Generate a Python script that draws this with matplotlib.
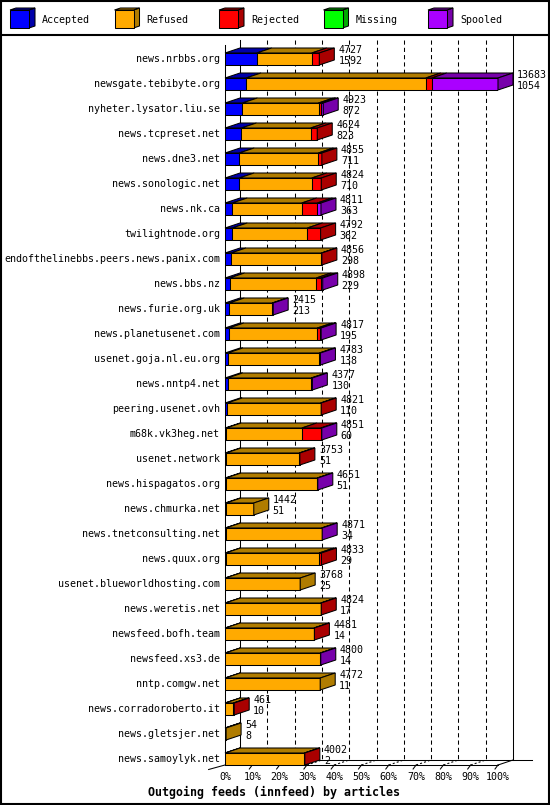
import matplotlib
matplotlib.use("Agg")
import matplotlib.pyplot as plt
from matplotlib.patches import Polygon, Rectangle
from matplotlib.lines import Line2D

# ------------------ data ------------------
hosts = [
    "news.nrbbs.org", "newsgate.tebibyte.org", "nyheter.lysator.liu.se",
    "news.tcpreset.net", "news.dne3.net", "news.sonologic.net", "news.nk.ca",
    "twilightnode.org", "endofthelinebbs.peers.news.panix.com", "news.bbs.nz",
    "news.furie.org.uk", "news.planetusenet.com", "usenet.goja.nl.eu.org",
    "news.nntp4.net", "peering.usenet.ovh", "m68k.vk3heg.net", "usenet.network",
    "news.hispagatos.org", "news.chmurka.net", "news.tnetconsulting.net",
    "news.quux.org", "usenet.blueworldhosting.com", "news.weretis.net",
    "newsfeed.bofh.team", "newsfeed.xs3.de", "nntp.comgw.net",
    "news.corradoroberto.it", "news.gletsjer.net", "news.samoylyk.net",
]
total = [4727, 13683, 4923, 4624, 4855, 4824, 4811, 4792, 4856, 4898,
         2415, 4817, 4783, 4377, 4821, 4851, 3753, 4651, 1442, 4871,
         4833, 3768, 4824, 4481, 4800, 4772, 461, 54, 4002]
accepted = [1592, 1054, 872, 823, 711, 710, 363, 362, 298, 229,
            213, 195, 138, 130, 110, 60, 51, 51, 51, 34,
            29, 25, 17, 14, 14, 11, 10, 8, 2]
refused = [2755, 9009, 3816, 3471, 3964, 3639, 3483, 3765, 4538, 4344,
           2152, 4437, 4595, 4187, 4681, 3791, 3672, 4570, 1391, 4807,
           4689, 3743, 4782, 4442, 4761, 4761, 411, 46, 3980]
rejected = [380, 300, 100, 330, 180, 475, 780, 665, 20, 225,
            0, 135, 0, 0, 30, 950, 30, 0, 0, 0,
            115, 0, 25, 25, 0, 0, 40, 0, 20]
missing = [0, 0, 0, 0, 0, 0, 0, 0, 0, 0,
           0, 0, 0, 0, 0, 0, 0, 0, 0, 0,
           0, 0, 0, 0, 0, 0, 0, 0, 0]
spooled = [0, 3320, 135, 0, 0, 0, 185, 0, 0, 100,
           50, 50, 50, 60, 0, 50, 0, 30, 0, 30,
           0, 0, 0, 0, 25, 0, 0, 0, 0]

series = ["Accepted", "Refused", "Rejected", "Missing", "Spooled"]
faces = ["#0000ff", "#ffaa00", "#ff0000", "#00ff00", "#aa00ff"]
darks = ["#0000aa", "#b07c00", "#aa0000", "#00aa00", "#7700aa"]
ticks = [0, 10, 20, 30, 40, 50, 60, 70, 80, 90, 100]

# ------------------ layout ------------------
W, H = 550, 805
MONO = "DejaVu Sans Mono"
FS = 7.2
LW = 0.75
HALF = 0.24      # half bar height (rows)
DX = 15 / 2.73   # depth in percent units (15 px)
DY = 0.2         # depth in rows (5 px)

fig = plt.figure(figsize=(W / 100, H / 100), dpi=100)
fig.patch.set_facecolor("white")


def px(x, y):
    return x / W, 1 - y / H


# outer frame and legend separator
fig.add_artist(Rectangle(px(1, 804), 548 / W, 803 / H, transform=fig.transFigure,
                         fill=False, ec="black", lw=1.5))
fig.add_artist(Line2D([0, 1], [px(0, 35)[1]] * 2, transform=fig.transFigure,
                      color="black", lw=1.5))

# legend with little cubes
for k, name in enumerate(series):
    x0 = 10 + k * 104.5
    fx, fy = px(x0, 28)
    fig.add_artist(Polygon([px(x0 + 19, 10), px(x0 + 25, 8), px(x0 + 25, 26), px(x0 + 19, 28)],
                           transform=fig.transFigure, fc=darks[k], ec="black", lw=LW))
    fig.add_artist(Polygon([px(x0, 10), px(x0 + 6, 8), px(x0 + 25, 8), px(x0 + 19, 10)],
                           transform=fig.transFigure, fc=darks[k], ec="black", lw=LW))
    fig.add_artist(Rectangle((fx, fy), 19 / W, 18 / H, transform=fig.transFigure,
                             fc=faces[k], ec="black", lw=LW))
    fig.text(*px(x0 + 32, 20), name, ha="left", va="center", family=MONO, fontsize=FS)

# ------------------ plot area ------------------
n = len(hosts)
ax = fig.add_axes([225 / W, 40 / H, 273 / W, 720 / H])
ax.set_xlim(0, 100)
ax.set_ylim(n - 1 + 0.24, -0.56)
ax.patch.set_alpha(0)
for s in ["top", "right"]:
    ax.spines[s].set_visible(False)
ax.spines["left"].set_linewidth(LW)
ax.spines["bottom"].set_linewidth(LW)
ax.set_yticks([])
ax.set_xticks(ticks)
ax.set_xticklabels([f"{t}%" for t in ticks], family=MONO, fontsize=FS)
ax.tick_params(axis="x", length=0, pad=5)

y_top, y_bot = ax.get_ylim()[1], ax.get_ylim()[0]
# back wall and floor
ax.plot([DX, DX], [y_top - DY, y_bot - DY], color="black", lw=LW, clip_on=False, zorder=1)
ax.plot([100 + DX, 100 + DX], [y_top - DY - 0.15, y_bot - DY], color="black", lw=LW,
        clip_on=False, zorder=1)
ax.plot([DX, 100 + DX + 7], [y_bot - DY] * 2, color="black", lw=LW, clip_on=False, zorder=1)
ax.plot([100, 100 + DX], [y_bot, y_bot - DY], color="black", lw=LW, clip_on=False, zorder=1)
ax.plot([-6, 0], [y_bot + 0.18, y_bot], color="black", lw=LW, clip_on=False, zorder=1)
for t in ticks[1:-1]:
    ax.plot([t + DX, t + DX], [y_top - DY, y_bot - DY], color="black", lw=LW,
            ls=(0, (4, 3)), clip_on=False, zorder=1)
    ax.plot([t, t + DX], [y_bot, y_bot - DY], color="black", lw=LW,
            ls=(0, (2, 2)), clip_on=False, zorder=1)
for t in ticks[1:]:
    ax.plot([t - 1.1, t], [y_bot + 0.16, y_bot], color="black", lw=LW, clip_on=False, zorder=1)

scale = 100 / max(total)
for i in range(n):
    segs = [accepted[i], refused[i], rejected[i], missing[i], spooled[i]]
    left = 0
    last = None
    for k, v in enumerate(segs):
        if v <= 0:
            continue
        w = v * scale
        ax.add_patch(Polygon([(left, i - HALF), (left + w, i - HALF),
                              (left + w + DX, i - HALF - DY), (left + DX, i - HALF - DY)],
                             fc=darks[k], ec="black", lw=LW, clip_on=False, zorder=2))
        ax.barh(i, w, left=left, height=2 * HALF, color=faces[k], edgecolor="black",
                linewidth=LW, zorder=3)
        left += w
        last = darks[k]
    ax.add_patch(Polygon([(left, i - HALF), (left + DX, i - HALF - DY),
                          (left + DX, i + HALF - DY), (left, i + HALF)],
                         fc=last, ec="black", lw=LW, clip_on=False, zorder=3))
    ax.annotate(hosts[i], xy=(0, i), xytext=(-5, 0), textcoords="offset pixels",
                ha="right", va="center", family=MONO, fontsize=FS)
    ax.annotate(str(total[i]), xy=(left, i), xytext=(19, 9), textcoords="offset pixels",
                ha="left", va="center", family=MONO, fontsize=FS, zorder=4)
    ax.annotate(str(accepted[i]), xy=(left, i), xytext=(19, -2), textcoords="offset pixels",
                ha="left", va="center", family=MONO, fontsize=FS, zorder=4)

fig.text(*px(274.5, 792), "Outgoing feeds (innfeed) by articles", ha="center", va="center",
         family=MONO, fontsize=8.4, fontweight="bold")

fig.savefig("out.png", dpi=100)
